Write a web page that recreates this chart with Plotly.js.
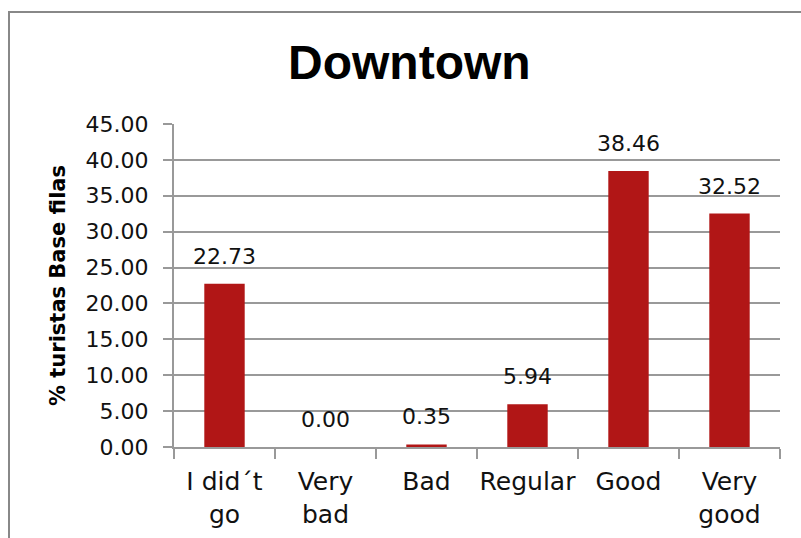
<!DOCTYPE html>
<html>
<head>
<meta charset="utf-8">
<script src="https://cdn.plot.ly/plotly-3.0.1.min.js"></script>
<style>
  html, body { margin: 0; padding: 0; background: #ffffff; }
  #wrap { position: relative; width: 801px; height: 538px; overflow: hidden; background: #ffffff; }
  #frame { position: absolute; left: 8px; top: 11px; width: 900px; height: 700px;
           border-left: 2px solid #888888; border-top: 2px solid #888888; }
  #chart { position: absolute; left: 0; top: 0; width: 801px; height: 538px; }
</style>
</head>
<body>
<div id="wrap">
  <div id="frame"></div>
  <div id="chart"></div>
</div>
<script>
// ---- data ----
var chartTitle = "Downtown";
var yAxisTitle = "% turistas Base filas";
var categories = ["I did´t<br>go", "Very<br>bad", "Bad", "Regular", "Good", "Very<br>good"];
var values = [22.73, 0.00, 0.35, 5.94, 38.46, 32.52];
var yTickValues = [0, 5, 10, 15, 20, 25, 30, 35, 40, 45];
var yTickLabels = ["0.00", "5.00", "10.00", "15.00", "20.00", "25.00", "30.00", "35.00", "40.00", "45.00"];

var baseFont = "DejaVu Sans, sans-serif";
var gridColor = "#999999";

var trace = {
  type: "bar",
  x: categories,
  y: values,
  marker: { color: "#B11616" },
  hoverinfo: "skip"
};

var annotations = values.map(function (v, i) {
  return {
    x: categories[i], y: v, xref: "x", yref: "y",
    text: v.toFixed(2), showarrow: false,
    yanchor: "bottom", yshift: 13,
    font: { family: baseFont, size: 22, color: "#111111" }
  };
});

var layout = {
  width: 801, height: 538,
  margin: { l: 174, r: 21, t: 124, b: 91 },
  paper_bgcolor: "rgba(0,0,0,0)",
  plot_bgcolor: "rgba(0,0,0,0)",
  showlegend: false,
  bargap: 0.6,
  title: {
    text: "<b>" + chartTitle + "</b>",
    x: 0.511, xref: "container", xanchor: "center",
    y: 0.884, yref: "container", yanchor: "middle",
    font: { family: "Liberation Sans, Arial, sans-serif", size: 48, color: "#000000" }
  },
  xaxis: {
    type: "category",
    tickson: "boundaries",
    tickangle: 0,
    ticks: "outside", ticklen: 10, tickwidth: 2, tickcolor: gridColor,
    showline: true, linecolor: gridColor, linewidth: 2,
    showgrid: false,
    ticklabelstandoff: 11,
    tickfont: { family: baseFont, size: 25, color: "#111111" },
    fixedrange: true
  },
  yaxis: {
    range: [0, 45],
    tickvals: yTickValues,
    ticktext: yTickLabels,
    ticks: "outside", ticklen: 9, tickwidth: 2, tickcolor: gridColor,
    showline: true, linecolor: gridColor, linewidth: 2,
    showgrid: true, gridcolor: gridColor, gridwidth: 2,
    zeroline: false,
    ticklabelstandoff: 10,
    tickfont: { family: baseFont, size: 22, color: "#111111" },
    title: {
      text: "<b>" + yAxisTitle + "</b>",
      standoff: 14,
      font: { family: baseFont, size: 21, color: "#000000" }
    },
    fixedrange: true
  },
  annotations: annotations
};

Plotly.newPlot("chart", [trace], layout, { displayModeBar: false, staticPlot: true });
</script>
</body>
</html>
